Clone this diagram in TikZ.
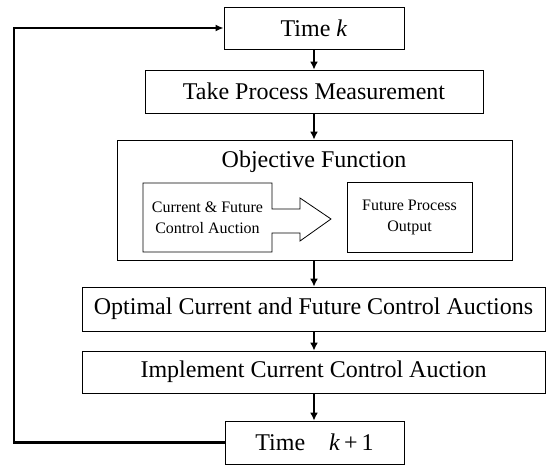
\documentclass[tikz,border=0pt]{standalone}
\usepackage{fontspec}
\setmainfont{Liberation Serif}
\usetikzlibrary{arrows.meta}
\begin{document}
\begin{tikzpicture}[x=1pt,y=-1pt,
  box/.style={draw=black,line width=0.8pt,inner sep=0pt,align=center,font=\fontsize{24}{27}\selectfont},
  sbox/.style={draw=black,line width=0.8pt,inner sep=0pt,align=center,font=\fontsize{16}{21}\selectfont},
  flow/.style={line width=2pt,-{Latex[length=8pt,width=8pt]}},
  loop/.style={line width=2.2pt,-{Latex[length=8pt,width=7pt]}}]
\useasboundingbox (0,0) rectangle (548,468);
\node[box,minimum width=180pt,minimum height=42pt] (tk) at (314,28) {Time \textit{k}};
\node[box,minimum width=338pt,minimum height=43pt] (tpm) at (314,91.5) {Take Process Measurement};
\node[box,minimum width=395pt,minimum height=120pt] (obj) at (314.5,200) {};
\node[font=\fontsize{24}{27}\selectfont,inner sep=0pt] (objt) at (314,162) {Objective Function};
% left inner box merged with the hollow arrow
\draw[line width=0.8pt] (272,209) -- (272,183) -- (143,183) -- (143,252) -- (272,252) -- (272,233)
  -- (300,233) -- (300,241) -- (331,219) -- (300,198) -- (300,209) -- cycle;
\node[font=\fontsize{16}{21}\selectfont,align=center,inner sep=0pt] (cfa) at (207.5,218) {Current \& Future\\Control Auction};
\node[sbox,minimum width=125pt,minimum height=70pt] (fpo) at (409.5,217) {Future Process\\Output};
\node[box,minimum width=463pt,minimum height=44pt] (opt) at (313.5,309) {Optimal Current and Future Control Auctions};
\node[box,minimum width=463pt,minimum height=42pt] (imp) at (313.5,372) {Implement Current Control Auction};
\node[box,minimum width=179pt,minimum height=43pt] (tk1) at (314.5,442.5) {Time\quad\textit{k}\,+\,1};
\coordinate (lb) at (14,442.5);
\coordinate (lt) at (14,28);
\draw[flow] (tk.south -| 314,0) -- (tpm.north -| 314,0);
\draw[flow] (tpm.south -| 314,0) -- (obj.north -| 314,0);
\draw[flow] (obj.south -| 314,0) -- (opt.north -| 314,0);
\draw[flow] (opt.south -| 314,0) -- (imp.north -| 314,0);
\draw[flow] (imp.south -| 314,0) -- (tk1.north -| 314,0);
\draw[loop] (tk1.west) -- (lb) -- (lt) -- (tk.west);
\end{tikzpicture}
\end{document}
